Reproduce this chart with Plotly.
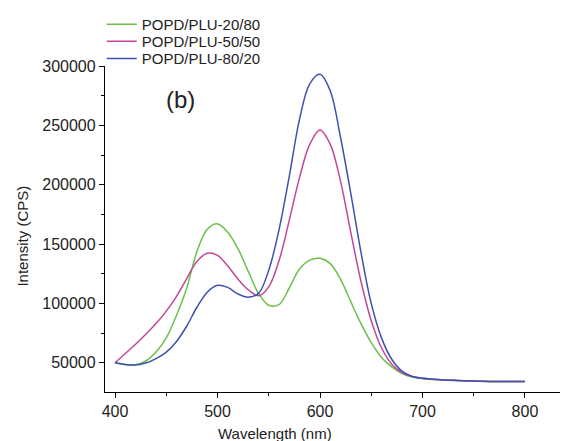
import plotly.graph_objects as go

wavelength = list(range(400, 801, 10))

popd_20_80 = [50000, 48500, 48300, 51500, 59000, 71000, 90000, 113000, 144000, 162500,
              167000, 160000, 146000, 127000, 108500, 98500, 99000, 113000, 129000, 136500,
              138000, 133500, 120500, 101500, 83000, 67000, 54500, 46500, 41000, 38000,
              36500, 36000, 35500, 35100, 34800, 34500, 34300, 34200, 34200, 34200, 34200]

popd_50_50 = [50000, 57800, 65600, 74000, 83000, 93500, 106000, 121000, 135500, 142300,
              140500, 131500, 120500, 111500, 106500, 114000, 136000, 170000, 206000, 234000,
              246000, 234000, 203000, 160000, 118500, 85500, 62700, 48800, 41700, 38500,
              37000, 36200, 35600, 35200, 34900, 34600, 34400, 34300, 34300, 34300, 34300]

popd_80_20 = [50000, 48600, 48200, 49800, 53500, 59000, 68000, 81000, 97000, 109500,
              115300, 113500, 108000, 105300, 108500, 128000, 162000, 207000, 255000, 285000,
              293000, 279000, 240000, 193000, 143000, 100000, 71000, 53000, 43000, 38500,
              37000, 36200, 35600, 35200, 34900, 34600, 34400, 34300, 34300, 34300, 34300]

series = [
    ("POPD/PLU-20/80", popd_20_80, "#6cc04a"),
    ("POPD/PLU-50/50", popd_50_50, "#c2479a"),
    ("POPD/PLU-80/20", popd_80_20, "#3f51b0"),
]

legend_names = ["legend", "legend2", "legend3"]

fig = go.Figure()
for (name, vals, col), lg in zip(series, legend_names):
    fig.add_trace(go.Scatter(x=wavelength, y=vals, mode="lines", name=name, legend=lg,
                             line=dict(color=col, width=1.5, shape="spline", smoothing=1.0)))

axis_font = dict(family="Liberation Sans, Arial, sans-serif", size=16, color="#222")
leg_font = dict(size=15, family="Liberation Sans, Arial, sans-serif", color="#222")

def leg(y):
    return dict(x=-0.007, y=y, xanchor="left", yanchor="top",
                bgcolor="rgba(0,0,0,0)", borderwidth=0, font=leg_font)

fig.update_layout(
    width=560, height=433,
    margin=dict(l=97, r=0, t=55, b=49),
    plot_bgcolor="white", paper_bgcolor="white",
    font=dict(family="Liberation Sans, Arial, sans-serif", size=15, color="#222"),
    showlegend=True,
    legend=leg(1.179), legend2=leg(1.126), legend3=leg(1.073),
    xaxis=dict(range=[390.2, 842], showline=True, linecolor="black", linewidth=1.3,
               ticks="outside", ticklen=5, tickwidth=1.2, tickcolor="black",
               tick0=400, dtick=100, showgrid=False, zeroline=False,
               tickfont=axis_font,
               minor=dict(ticks="outside", ticklen=3, tickwidth=1.2, tickcolor="black",
                          tick0=400, dtick=50, showgrid=False)),
    yaxis=dict(range=[25400, 300000], showline=True, linecolor="black", linewidth=1.3,
               ticks="outside", ticklen=5, tickwidth=1.2, tickcolor="black",
               tick0=0, dtick=50000, tickformat="d", showgrid=False, zeroline=False,
               tickfont=axis_font,
               minor=dict(ticks="outside", ticklen=3, tickwidth=1.2, tickcolor="black",
                          tick0=0, dtick=25000, showgrid=False)),
    annotations=[
        dict(text="Intensity (CPS)", textangle=-90, xref="paper", yref="paper",
             x=-0.179, y=0.477, xanchor="center", yanchor="middle", showarrow=False,
             font=dict(size=15)),
        dict(text="Wavelength (nm)", xref="paper", yref="paper",
             x=0.367, y=-0.128, xanchor="center", yanchor="middle", showarrow=False,
             font=dict(size=15)),
        dict(text="(b)", xref="paper", yref="paper",
             x=0.164, y=0.897, xanchor="center", yanchor="middle", showarrow=False,
             font=dict(size=24)),
    ],
)

fig.write_html("out.html")
